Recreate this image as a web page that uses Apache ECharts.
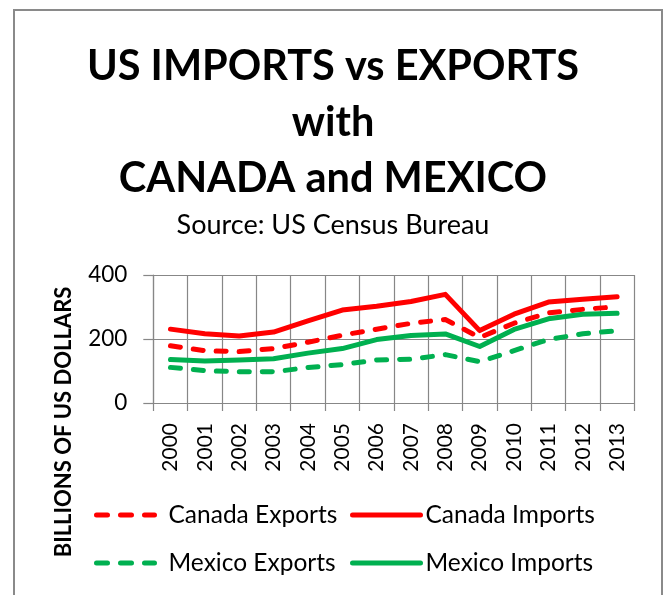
<!DOCTYPE html>
<html>
<head>
<meta charset="utf-8">
<script src="https://cdn.jsdelivr.net/npm/echarts@6/dist/echarts.min.js"></script>
<style>
html,body{margin:0;padding:0;background:#fff;}
#chart{width:666px;height:595px;}
</style>
</head>
<body>
<div id="chart"></div>
<script>
const years = ['2000','2001','2002','2003','2004','2005','2006','2007','2008','2009','2010','2011','2012','2013'];
const canadaExports = [178.9, 163.4, 160.9, 169.9, 189.9, 211.9, 230.6, 248.9, 261.1, 204.7, 249.3, 281.3, 292.7, 300.8];
const canadaImports = [230.8, 216.3, 209.1, 221.6, 256.4, 290.4, 302.4, 317.1, 339.5, 226.2, 277.6, 315.3, 324.3, 332.1];
const mexicoExports = [111.3, 101.3, 97.5, 97.4, 110.8, 120.2, 134.2, 136.5, 151.2, 128.9, 163.7, 198.4, 216.3, 226.2];
const mexicoImports = [135.9, 131.3, 134.6, 138.1, 155.9, 170.1, 198.3, 210.7, 215.9, 176.5, 229.9, 263.1, 277.6, 280.5];
const yMin = 0, yMax = 400, yStep = 200;

const FONT = 'Lato';
const RED = '#FF0000', GREEN = '#00B050', GRID = '#878787';
const dash = [10, 13];
const LW = 5;

const chart = echarts.init(document.getElementById('chart'), null, {renderer: 'canvas'});

function mkLegend(name, left, top, width, pad, color, dashed) {
  return {
    data: [name], left: left, top: top, orient: 'horizontal',
    itemWidth: width, itemHeight: 14, padding: 0,
    itemStyle: {opacity: 0},
    lineStyle: {color: color, width: LW, type: dashed ? [11, 13] : 'solid', cap: 'round', join: 'round'},
    textStyle: {fontFamily: FONT, fontSize: 24.5, color: '#000', lineHeight: 28, padding: [0, 0, 0, pad]},
    selectedMode: false
  };
}

function mkSeries(name, data, color, dashed) {
  return {
    name: name, type: 'line', data: data, symbol: 'none', smooth: false,
    lineStyle: {color: color, width: LW, type: dashed ? dash : 'solid', cap: 'round', join: 'round'},
    itemStyle: {color: color},
    emphasis: {disabled: true}
  };
}

chart.setOption({
  animation: false,
  backgroundColor: '#fff',
  title: [
    {text: 'US IMPORTS vs EXPORTS\nwith\nCANADA and MEXICO', left: 'center', top: 34,
     textStyle: {fontFamily: FONT, fontSize: 41.5, fontWeight: 'bold', color: '#000', lineHeight: 56}},
    {text: 'Source: US Census Bureau', left: 'center', top: 205,
     textStyle: {fontFamily: FONT, fontSize: 27, fontWeight: 'normal', color: '#000', lineHeight: 30}}
  ],
  graphic: [
    {type: 'rect', shape: {x: 14, y: 10, width: 648, height: 620}, style: {fill: 'none', stroke: '#8a8a8a', lineWidth: 2}, silent: true, z: 100},
    {type: 'text', x: 64, y: 422, rotation: Math.PI / 2,
     style: {text: 'BILLIONS OF US DOLLARS', fontFamily: FONT, fontSize: 22, fontWeight: 'bold', fill: '#000', align: 'center', verticalAlign: 'middle'}}
  ],
  legend: [
    mkLegend('Canada Exports', 94, 501, 58, 9, RED, true),
    mkLegend('Canada Imports', 350, 501, 68, 0, RED, false),
    mkLegend('Mexico Exports', 94, 549, 58, 9, GREEN, true),
    mkLegend('Mexico Imports', 350, 549, 68, 0, GREEN, false)
  ],
  grid: {left: 153.3, right: 31.7, top: 275, bottom: 192, containLabel: false},
  xAxis: {
    type: 'category', data: years, boundaryGap: true,
    axisLine: {show: true, lineStyle: {color: GRID, width: 1.2}},
    axisTick: {show: true, length: 8, interval: 0, lineStyle: {color: GRID, width: 1.2}},
    splitLine: {show: true, interval: 0, lineStyle: {color: GRID, width: 1.2}},
    axisLabel: {interval: 0, rotate: 90, margin: 20, fontFamily: FONT, fontSize: 21, color: '#000'}
  },
  yAxis: {
    type: 'value', min: yMin, max: yMax, interval: yStep,
    axisLine: {show: true, lineStyle: {color: GRID, width: 1.2}},
    axisTick: {show: true, length: 10, lineStyle: {color: GRID, width: 1.2}},
    splitLine: {show: true, lineStyle: {color: GRID, width: 1.2}},
    axisLabel: {margin: 26, fontFamily: FONT, fontSize: 22.5, color: '#000'}
  },
  series: [
    mkSeries('Canada Exports', canadaExports, RED, true),
    mkSeries('Canada Imports', canadaImports, RED, false),
    mkSeries('Mexico Exports', mexicoExports, GREEN, true),
    mkSeries('Mexico Imports', mexicoImports, GREEN, false)
  ]
});
</script>
</body>
</html>
